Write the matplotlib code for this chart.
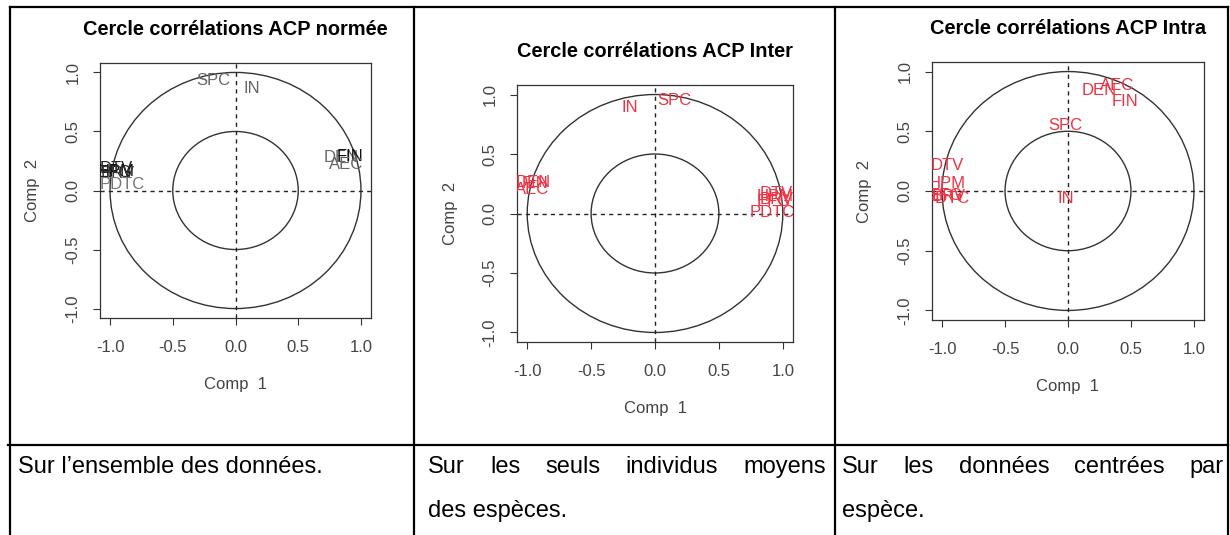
import matplotlib
matplotlib.use("Agg")
from matplotlib import pyplot as plt
from matplotlib.patches import Circle

plt.rcParams['font.family'] = ['Liberation Sans', 'DejaVu Sans']

# panneau 1 : ACP normée
p1_labels = ['SPC', 'IN', 'DEN', 'FIN', 'AEC', 'DTV', 'HPM', 'BRV', 'EFG', 'PDTC']
p1_x = [-0.18, 0.13, 0.84, 0.91, 0.88, -0.95, -0.95, -0.94, -0.96, -0.90]
p1_y = [0.93, 0.86, 0.28, 0.29, 0.22, 0.19, 0.16, 0.14, 0.15, 0.05]
p1_col = ['#666666', '#666666', '#666666', '#111111', '#666666',
          '#222222', '#111111', '#333333', '#222222', '#777777']

# panneau 2 : ACP inter
p2_labels = ['IN', 'SPC', 'DEN', 'FIN', 'AEC', 'DTV', 'HPM', 'BRV', 'EFG', 'PDTC']
p2_x = [-0.20, 0.15, -0.95, -0.94, -0.96, 0.95, 0.94, 0.95, 0.93, 0.92]
p2_y = [0.89, 0.95, 0.26, 0.25, 0.20, 0.17, 0.14, 0.12, 0.10, 0.01]

# panneau 3 : ACP intra
p3_labels = ['SPC', 'IN', 'DEN', 'AEC', 'FIN', 'DTV', 'HPM', 'BRV', 'EFG', 'PDTC']
p3_x = [-0.02, -0.02, 0.25, 0.39, 0.45, -0.96, -0.96, -0.95, -0.97, -0.96]
p3_y = [0.55, -0.06, 0.84, 0.88, 0.75, 0.21, 0.06, -0.05, -0.04, -0.06]

titles = ['Cercle corrélations ACP normée', 'Cercle corrélations ACP Inter',
          'Cercle corrélations ACP Intra']
ticks = [-1.0, -0.5, 0.0, 0.5, 1.0]
tick_labels = ['-1.0', '-0.5', '0.0', '0.5', '1.0']

captions = [
    [['Sur l’ensemble des données.']],
    [['Sur les seuls individus moyens', True], ['des espèces.']],
    [['Sur les données centrées par', True], ['espèce.']],
]

W, H = 1230, 535
fig = plt.figure(figsize=(W / 100, H / 100), dpi=100)

# boites des axes en pixels (gauche, haut, droite, bas)
boxes = [(100, 63, 371, 318), (517, 85, 793, 342), (932, 62, 1204, 320)]
panels = [(p1_labels, p1_x, p1_y, p1_col),
          (p2_labels, p2_x, p2_y, ['#ee3344'] * len(p2_labels)),
          (p3_labels, p3_x, p3_y, ['#ee3344'] * len(p3_labels))]

for (l, t, r, b), title, (labs, xs, ys, cols) in zip(boxes, titles, panels):
    ax = fig.add_axes([l / W, 1 - b / H, (r - l) / W, (b - t) / H])
    ax.set_xlim(-1.08, 1.08)
    ax.set_ylim(-1.08, 1.08)
    ax.add_patch(Circle((0, 0), 1.0, fill=False, ec='#333333', lw=1.0))
    ax.add_patch(Circle((0, 0), 0.5, fill=False, ec='#333333', lw=1.0))
    ax.axhline(0, color='#222222', lw=1.0, ls=(0, (3, 3)))
    ax.axvline(0, color='#222222', lw=1.0, ls=(0, (3, 3)))
    for lab, x, y, c in zip(labs, xs, ys, cols):
        ax.text(x, y, lab, color=c, fontsize=12, ha='center', va='center',
                clip_on=True)
    ax.set_xticks(ticks)
    ax.set_xticklabels(tick_labels)
    ax.set_yticks(ticks)
    ax.set_yticklabels(tick_labels, rotation=90, va='center')
    ax.tick_params(direction='out', length=5, width=0.8, colors='#333333',
                   labelcolor='#444444', labelsize=12)
    ax.tick_params(axis='x', pad=11)
    ax.tick_params(axis='y', pad=9)
    for s in ax.spines.values():
        s.set_color('#333333')
        s.set_linewidth(0.9)
    ax.set_title(title, fontsize=14.4, fontweight='bold', pad=20)
    ax.text(0.5, -67 / (b - t), 'Comp  1', transform=ax.transAxes,
            ha='center', va='center', fontsize=12, color='#444444')
    ax.text(-67 / (r - l), 0.5, 'Comp  2', transform=ax.transAxes,
            ha='center', va='center', rotation=90, fontsize=12,
            color='#444444')

# cadre du tableau
ov = fig.add_axes([0, 0, 1, 1], zorder=-1)
ov.set_xlim(0, W)
ov.set_ylim(H, 0)
ov.axis('off')
lw = 1.6
ov.plot([10, 1228], [7, 7], color='black', lw=lw)
ov.plot([8, 1228], [445, 445], color='black', lw=lw)
ov.plot([10, 10], [7, H], color='black', lw=lw)
for xv in [414, 835, 1228]:
    ov.plot([xv, xv], [7, H], color='black', lw=lw)

# légendes sous les graphiques, texte justifié
cap_font = dict(fontsize=17)
cols_x = [(18, 405), (428, 826), (842, 1224)]
line_y = [467, 511]
fig.canvas.draw()
rend = fig.canvas.get_renderer()
for (x0, x1), lines in zip(cols_x, captions):
    for i, line in enumerate(lines):
        words = line[0].split(' ')
        justify = len(line) > 1
        if not justify:
            ov.text(x0, line_y[i], line[0], ha='left', va='center', **cap_font)
            continue
        arts = [ov.text(x0, line_y[i], w, ha='left', va='center', **cap_font)
                for w in words]
        widths = [a.get_window_extent(rend).width for a in arts]
        gap = (x1 - x0 - sum(widths)) / (len(words) - 1)
        x = x0
        for a, wd in zip(arts, widths):
            a.set_x(x)
            x += wd + gap

fig.savefig('out.png', dpi=100)
